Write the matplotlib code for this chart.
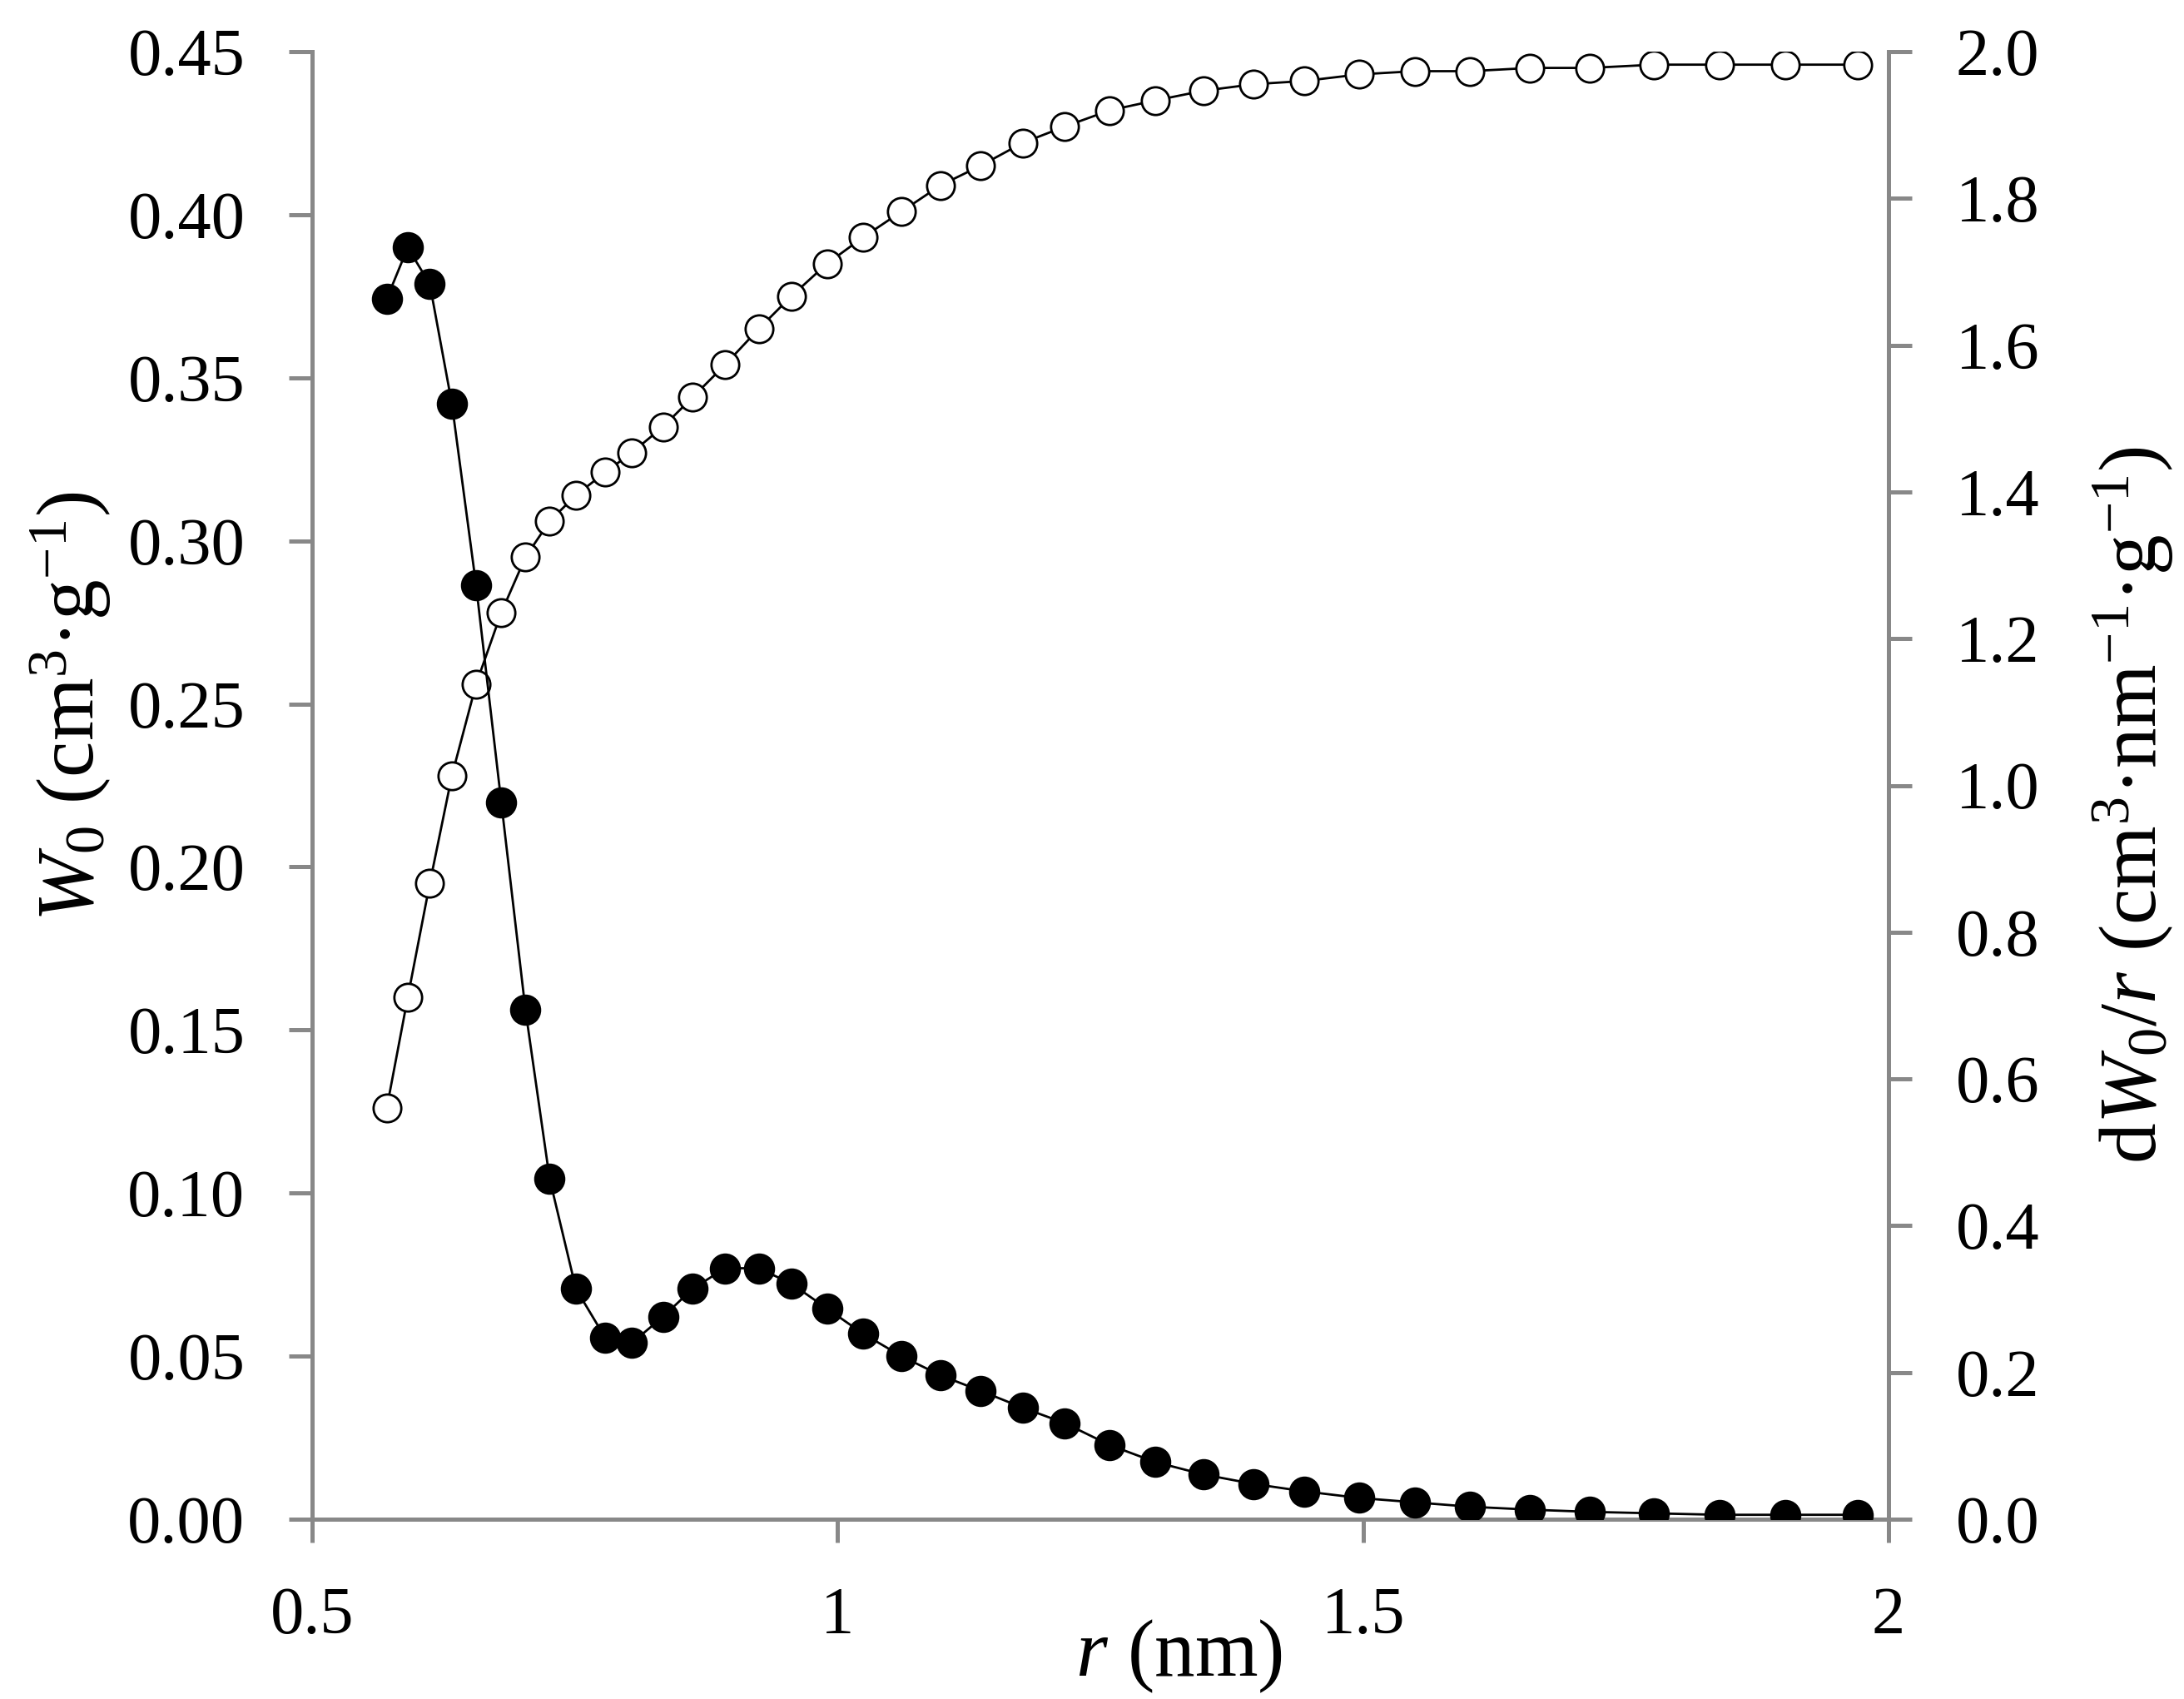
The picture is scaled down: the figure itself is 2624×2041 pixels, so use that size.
"""Pore size distribution: cumulative W0 (open) and dW0/r (filled) vs r."""

import matplotlib.pyplot as plt

# pore radius r (nm), shared by both series
r_nm = [0.571, 0.591, 0.612, 0.633, 0.656, 0.680, 0.703, 0.726, 0.751, 0.779,
        0.804, 0.834, 0.862, 0.893, 0.925, 0.956, 0.990, 1.024, 1.061, 1.098,
        1.136, 1.176, 1.216, 1.259, 1.302, 1.348, 1.396, 1.444, 1.496, 1.549,
        1.602, 1.659, 1.716, 1.777, 1.839, 1.902, 1.971]

# cumulative micropore volume W0 (cm3/g), left axis
w0 = [0.126, 0.160, 0.195, 0.228, 0.256, 0.278, 0.295, 0.306, 0.314, 0.321,
      0.327, 0.335, 0.344, 0.354, 0.365, 0.375, 0.385, 0.393, 0.401, 0.409,
      0.415, 0.422, 0.427, 0.432, 0.435, 0.438, 0.440, 0.441, 0.443, 0.444,
      0.444, 0.445, 0.445, 0.446, 0.446, 0.446, 0.446]

# distribution dW0/r (cm3 nm-1 g-1), right axis
dw0 = [1.663, 1.733, 1.683, 1.520, 1.273, 0.977, 0.694, 0.464, 0.314, 0.247,
       0.240, 0.276, 0.314, 0.342, 0.342, 0.321, 0.287, 0.253, 0.222, 0.196,
       0.175, 0.152, 0.131, 0.101, 0.078, 0.061, 0.048, 0.038, 0.029, 0.023,
       0.017, 0.013, 0.010, 0.008, 0.006, 0.006, 0.006]

x_ticks = [0.5, 1, 1.5, 2]
x_labels = ['0.5', '1', '1.5', '2']
left_ticks = [0.00, 0.05, 0.10, 0.15, 0.20, 0.25, 0.30, 0.35, 0.40, 0.45]
right_ticks = [0.0, 0.2, 0.4, 0.6, 0.8, 1.0, 1.2, 1.4, 1.6, 1.8, 2.0]

plt.rcParams['font.family'] = ['Liberation Serif', 'DejaVu Serif']
plt.rcParams['mathtext.fontset'] = 'custom'
plt.rcParams['mathtext.rm'] = 'Liberation Serif'
plt.rcParams['mathtext.it'] = 'Liberation Serif:italic'

W, H = 2624, 2041
fig = plt.figure(figsize=(W / 200, H / 200), dpi=200)
ax = fig.add_axes([375 / W, 1 - 1825 / H, (2269 - 375) / W, (1825 - 62) / H])
ax2 = ax.twinx()

grey = '#888888'
fs = 29      # tick labels
fs_t = 35    # axis titles

ax.plot(r_nm, w0, color='black', linewidth=1.0, marker='o', markersize=12,
        markerfacecolor='white', markeredgecolor='black', markeredgewidth=1.0)
ax2.plot(r_nm, dw0, color='black', linewidth=1.0, marker='o', markersize=12.5,
         markerfacecolor='black', markeredgecolor='black')

ax.set_xlim(0.5, 2.0)
ax.set_ylim(0, 0.45)
ax2.set_ylim(0, 2.0)

ax.set_xticks(x_ticks)
ax.set_xticklabels(x_labels)
ax.set_yticks(left_ticks)
ax.set_yticklabels([f"{v:.2f}" for v in left_ticks])
ax2.set_yticks(right_ticks)
ax2.set_yticklabels([f"{v:.1f}" for v in right_ticks])

for a in (ax, ax2):
    a.spines['top'].set_visible(False)
    for s in ('left', 'right', 'bottom'):
        a.spines[s].set_color(grey)
        a.spines[s].set_linewidth(1.8)
    a.tick_params(axis='both', direction='out', length=10, width=1.8,
                  color=grey, labelsize=fs, pad=19)
ax2.spines['left'].set_visible(False)
ax.spines['right'].set_visible(False)
ax2.spines['bottom'].set_visible(False)

# axis titles placed by hand, as in the original
fig.text(1416 / W, 1 - 1990 / H, r'$r$ (nm)', fontsize=fs_t,
         ha='center', va='center')
fig.text(84 / W, 1 - 849 / H, r'$W_0$ (cm$^3$·g$^{-1}$)', fontsize=fs_t,
         rotation=90, ha='center', va='center')
fig.text(2562 / W, 1 - 967 / H, r'd$W_0$/$r$ (cm$^3$·nm$^{-1}$·g$^{-1}$)',
         fontsize=fs_t, rotation=90, ha='center', va='center')

fig.savefig('out.png', dpi=200)
